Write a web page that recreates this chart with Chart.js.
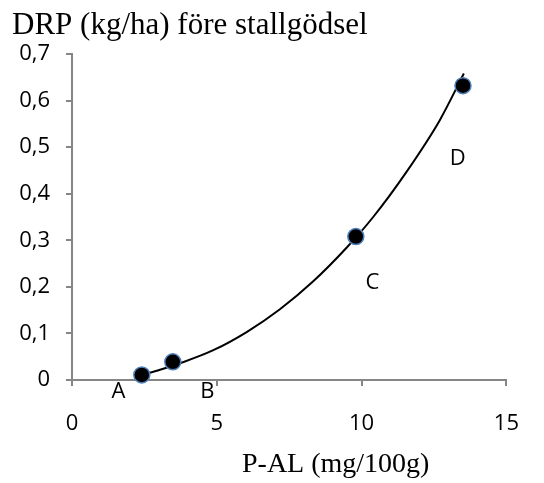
<!DOCTYPE html>
<html>
<head>
<meta charset="utf-8">
<script src="https://cdn.jsdelivr.net/npm/chart.js@4.4.1/dist/chart.umd.min.js"></script>
<style>
  body { margin: 0; background: #fff; }
  #wrap { width: 544px; height: 483px; }
</style>
</head>
<body>
<div id="wrap"><canvas id="drpChart"></canvas></div>
<script>
// measured points (P-AL, DRP)
const pointX = [2.41, 3.48, 9.80, 13.50];
const pointY = [0.011, 0.039, 0.308, 0.632];

// trend curve
const trendX = [2.41, 3.04, 3.73, 4.88, 6.03, 7.18, 8.33, 9.48, 10.40, 11.55, 12.70, 13.53];
const trendY = [0.011, 0.022, 0.036, 0.064, 0.103, 0.152, 0.212, 0.284, 0.350, 0.447, 0.558, 0.658];

// point labels
const labelText = ['A', 'B', 'C', 'D'];
const labelX = [1.60, 4.67, 10.37, 13.32];
const labelY = [-0.025, -0.025, 0.209, 0.475];

const xTickLabels = ['0', '5', '10', '15'];
const yTickLabels = ['0', '0,1', '0,2', '0,3', '0,4', '0,5', '0,6', '0,7'];

const chartTitle = 'DRP (kg/ha) före stallgödsel';
const xTitle = 'P-AL (mg/100g)';

const AXIS_GRAY = '#868686';

const textPlugin = {
    id: 'textPlugin',
    afterDraw(chart) {
        const ctx = chart.ctx; const xs = chart.scales.x; const ys = chart.scales.y;
        ctx.save();
        ctx.fillStyle = '#000';
        ctx.textBaseline = 'alphabetic'; ctx.textAlign = 'left';
        ctx.font = '31px "Liberation Serif", "Times New Roman", serif';
        ctx.fillText(chartTitle, 12, 34);
        ctx.font = '28px "Liberation Serif", "Times New Roman", serif';
        ctx.fillText(xTitle, 242, 472);
        ctx.font = '22px "Open Sans", sans-serif';
        ctx.textAlign = 'center'; ctx.textBaseline = 'middle';
        labelText.forEach((t, i) => {
            ctx.fillText(t, xs.getPixelForValue(labelX[i]), ys.getPixelForValue(labelY[i]));
        });
        ctx.restore();
    }
};

const ctx = document.getElementById('drpChart').getContext('2d');
new Chart(ctx, {
    type: 'scatter',
    data: {
        datasets: [
            {
                label: 'DRP',
                data: pointX.map((x, i) => ({ x: x, y: pointY[i] })),
                pointRadius: 8, pointHoverRadius: 8,
                backgroundColor: '#000', borderColor: '#4f81bd', borderWidth: 1.5,
                clip: false, order: 0
            },
            {
                label: 'trend',
                data: trendX.map((x, i) => ({ x: x, y: trendY[i] })),
                showLine: true, pointRadius: 0, borderColor: '#000', borderWidth: 2,
                cubicInterpolationMode: 'monotone', clip: false, order: 1
            }
        ]
    },
    options: {
        responsive: true, maintainAspectRatio: false, animation: false,
        layout: { padding: { top: 54, right: 37, left: 0, bottom: 0 } },
        plugins: { legend: { display: false }, tooltip: { enabled: false }, title: { display: false } },
        scales: {
            x: {
                type: 'linear', min: 0, max: 15,
                afterFit: s => { s.height = 103; },
                ticks: {
                    stepSize: 5, color: '#000', padding: 25,
                    font: { family: '"Open Sans", sans-serif', size: 22 },
                    callback: (v) => xTickLabels[Math.round(v / 5)]
                },
                grid: { drawOnChartArea: false, drawTicks: true, tickLength: 6, color: AXIS_GRAY, lineWidth: 2 },
                border: { color: AXIS_GRAY, width: 2 }
            },
            y: {
                type: 'linear', min: 0, max: 0.7,
                afterFit: s => { s.width = 72; },
                ticks: {
                    stepSize: 0.1, color: '#000', padding: 16,
                    font: { family: '"Open Sans", sans-serif', size: 22 },
                    callback: (v) => yTickLabels[Math.round(v * 10)]
                },
                grid: { drawOnChartArea: false, drawTicks: true, tickLength: 6, color: AXIS_GRAY, lineWidth: 2 },
                border: { color: AXIS_GRAY, width: 2 }
            }
        }
    },
    plugins: [textPlugin]
});
</script>
</body>
</html>
